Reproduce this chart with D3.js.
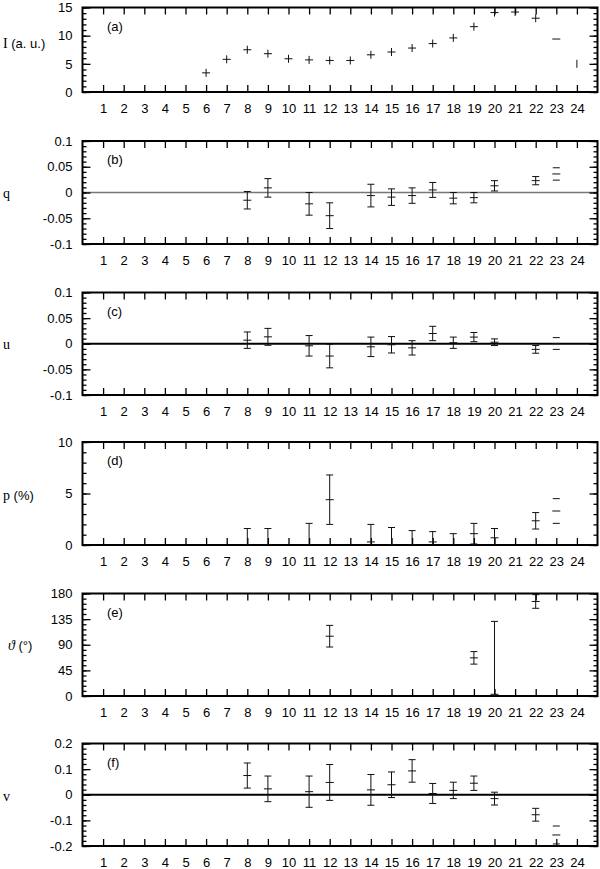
<!DOCTYPE html>
<html><head><meta charset="utf-8">
<script src="https://cdn.jsdelivr.net/npm/d3@7"></script>
<style>
body{margin:0;background:#fff}
svg{display:block}
</style>
</head><body><svg id="c" width="600" height="869"></svg>
<script>
// ---------- data ----------
const xCats = d3.range(1, 25);            // x tick labels 1..24

const xI = [6,7,8,9,10,11,12,13,14,15,16,17,18,19,20,21,22,23,24];
const I  = [3.4,5.8,7.5,6.8,5.9,5.7,5.6,5.6,6.6,7.1,7.8,8.6,9.6,11.6,14.1,14.2,13.1,9.4,5.0];

const xPol = [8,9,11,12,14,15,16,17,18,19,20,22,23];
const q    = [-0.015,0.009,-0.022,-0.045,-0.006,-0.009,-0.006,0.005,-0.011,-0.010,0.013,0.023,0.036];
const qErr = [0.017,0.018,0.022,0.025,0.022,0.016,0.015,0.0145,0.011,0.010,0.010,0.008,0.012];
const u    = [0.007,0.0135,-0.004,-0.024,-0.006,-0.002,-0.008,0.020,0.002,0.013,0.003,-0.011,0.0005];
const uErr = [0.016,0.0165,0.020,0.023,0.019,0.016,0.014,0.014,0.011,0.009,0.0065,0.0075,0.0115];
const p    = [0,0,0,4.4,0.3,0,0,0.3,0,1.1,0.7,2.35,3.3];
const pErr = [1.6,1.6,2.1,2.4,1.7,1.7,1.4,1.0,1.1,1.0,0.9,0.8,1.2];
const v    = [0.075,0.023,0.012,0.048,0.019,0.039,0.093,0.005,0.017,0.045,-0.015,-0.078,-0.157];
const vErr = [0.049,0.05,0.061,0.07,0.06,0.05,0.044,0.039,0.032,0.028,0.025,0.025,0.035];

const xTheta   = [12,19,20,22];
const theta    = [105,67,3,166];
const thetaErr = [19,11,128,12];

const yTicksI = [0,5,10,15];
const yTicksQ = [-0.1,-0.05,0,0.05,0.1];
const yTicksP = [0,5,10];
const yTicksT = [0,45,90,135,180];
const yTicksV = [-0.2,-0.1,0,0.1,0.2];

// ---------- drawing ----------
const svg = d3.select('#c');
const SANS = '"Liberation Sans", Arial, Helvetica, sans-serif';
const SERIF = '"Liberation Serif", "Times New Roman", serif';
const x = d3.scaleLinear().domain([0, 25]).range([82.5, 597.5]);
const fmt = d => String(+(+d).toFixed(2));

function styleAxis(sel) {
  sel.select('.domain').remove();
  sel.selectAll('line').attr('stroke', '#000').attr('stroke-width', 1.3);
  sel.selectAll('text').attr('font-family', SANS).attr('font-size', 13).attr('fill', '#000');
}

function panel(cfg) {
  const y = d3.scaleLinear().domain(cfg.domain).range([cfg.bottom, cfg.top]);
  const g = svg.append('g');
  const [x0, x1] = x.range();
  const clipId = 'clip' + cfg.name;
  svg.append('clipPath').attr('id', clipId).append('rect')
    .attr('x', x0).attr('y', cfg.top).attr('width', x1 - x0).attr('height', cfg.bottom - cfg.top);

  if (cfg.zero) {
    g.append('line').attr('x1', x0).attr('x2', x1).attr('y1', y(0)).attr('y2', y(0))
      .attr('stroke', cfg.zero.color).attr('stroke-width', cfg.zero.width);
  }

  // x axes (bottom with labels, top ticks only), inward ticks
  g.append('g').attr('transform', `translate(0,${cfg.bottom})`)
    .call(d3.axisBottom(x).tickValues(xCats).tickSizeInner(-7).tickSizeOuter(0).tickPadding(12).tickFormat(d => d))
    .call(styleAxis);
  g.append('g').attr('transform', `translate(0,${cfg.top})`)
    .call(d3.axisTop(x).tickValues(xCats).tickSizeInner(-7).tickSizeOuter(0).tickFormat(''))
    .call(styleAxis);

  // y axes major and minor, left and right
  const minor = d3.range(cfg.domain[0], cfg.domain[1] + cfg.minor / 2, cfg.minor);
  g.append('g').attr('transform', `translate(${x0},0)`)
    .call(d3.axisLeft(y).tickValues(minor).tickSizeInner(-4).tickSizeOuter(0).tickFormat(''))
    .call(styleAxis);
  g.append('g').attr('transform', `translate(${x1},0)`)
    .call(d3.axisRight(y).tickValues(minor).tickSizeInner(-4).tickSizeOuter(0).tickFormat(''))
    .call(styleAxis);
  g.append('g').attr('transform', `translate(${x0},0)`)
    .call(d3.axisLeft(y).tickValues(cfg.ticks).tickSizeInner(-8).tickSizeOuter(0).tickPadding(10).tickFormat(fmt))
    .call(styleAxis);
  g.append('g').attr('transform', `translate(${x1},0)`)
    .call(d3.axisRight(y).tickValues(cfg.ticks).tickSizeInner(-8).tickSizeOuter(0).tickFormat(''))
    .call(styleAxis);

  // frame
  g.append('rect').attr('x', x0).attr('y', cfg.top).attr('width', x1 - x0).attr('height', cfg.bottom - cfg.top)
    .attr('fill', 'none').attr('stroke', '#000').attr('stroke-width', 2);

  // panel letter
  g.append('text').attr('x', 107).attr('y', cfg.top + 23).attr('font-family', SANS).attr('font-size', 13)
    .text(`(${cfg.name})`);

  // y title
  const t = g.append('text').attr('x', cfg.titleX || 3).attr('y', cfg.titleY).attr('dy', '0.35em')
    .attr('font-family', SANS).attr('font-size', 13);
  cfg.title.forEach(([s, serif, italic]) => {
    const ts = t.append('tspan').text(s);
    if (serif) ts.attr('font-family', SERIF).attr('font-size', 14);
    if (italic) ts.attr('font-style', 'italic');
  });

  const plot = svg.append('g').attr('clip-path', `url(#${clipId})`);
  return { y, plot };
}

function crossMarks(pl, xs, vals, dashOnlyH, dashOnlyV) {
  const { y, plot } = pl;
  xs.forEach((xv, i) => {
    const cx = x(xv), cy = y(vals[i]);
    if (xv !== dashOnlyV)
      plot.append('line').attr('x1', cx - 4).attr('x2', cx + 4).attr('y1', cy).attr('y2', cy)
        .attr('stroke', '#111').attr('stroke-width', 1);
    if (xv !== dashOnlyH)
      plot.append('line').attr('x1', cx).attr('x2', cx).attr('y1', cy - 4).attr('y2', cy + 4)
        .attr('stroke', '#111').attr('stroke-width', 1);
  });
}

function errBars(pl, xs, vals, errs, dashOnlyX) {
  const { y, plot } = pl;
  xs.forEach((xv, i) => {
    const cx = x(xv), cy = y(vals[i]);
    const yt = y(vals[i] + errs[i]), yb = y(vals[i] - errs[i]);
    const ln = (a, b, c, d) => plot.append('line').attr('x1', a).attr('x2', b).attr('y1', c).attr('y2', d)
      .attr('stroke', '#111').attr('stroke-width', 1);
    if (xv !== dashOnlyX) {
      ln(cx, cx, yt, yb);
    }
    ln(cx - 3.5, cx + 3.5, yt, yt);
    ln(cx - 3.5, cx + 3.5, yb, yb);
    ln(cx - 4, cx + 4, cy, cy);
  });
}

const pa = panel({ name: 'a', top: 7.5, bottom: 92, domain: [0, 15], ticks: yTicksI, minor: 1,
  title: [['I', true], [' (a. u.)']], titleY: 43 });
crossMarks(pa, xI, I, 23, 24);

const pb = panel({ name: 'b', top: 141, bottom: 244, domain: [-0.1, 0.1], ticks: yTicksQ, minor: 0.01,
  title: [['q', true]], titleY: 193, zero: { color: '#777', width: 1.5 } });
errBars(pb, xPol, q, qErr, 23);

const pc = panel({ name: 'c', top: 292.5, bottom: 395, domain: [-0.1, 0.1], ticks: yTicksQ, minor: 0.01,
  title: [['u', true]], titleY: 344, zero: { color: '#000', width: 2 } });
errBars(pc, xPol, u, uErr, 23);

const pd = panel({ name: 'd', top: 442, bottom: 545, domain: [0, 10], ticks: yTicksP, minor: 1,
  title: [['p', true], [' (%)']], titleY: 495 });
errBars(pd, xPol, p, pErr, 23);

const pe = panel({ name: 'e', top: 593.5, bottom: 696, domain: [0, 180], ticks: yTicksT, minor: 9,
  title: [['ϑ', true, true], [' (°)']], titleY: 645, titleX: 8 });
errBars(pe, xTheta, theta, thetaErr, null);

const pf = panel({ name: 'f', top: 743.5, bottom: 846, domain: [-0.2, 0.2], ticks: yTicksV, minor: 0.02,
  title: [['v', true]], titleY: 796, zero: { color: '#000', width: 2 } });
errBars(pf, xPol, v, vErr, 23);
</script>
</body></html>
